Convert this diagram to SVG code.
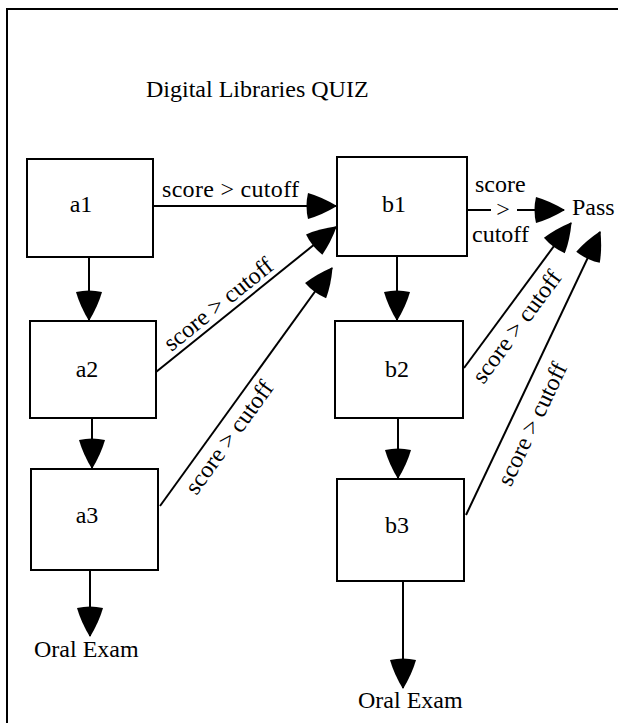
<svg xmlns="http://www.w3.org/2000/svg" width="618" height="723" viewBox="0 0 618 723">
<style>
  text { font-family: "Liberation Serif", "Times New Roman", serif; font-size: 24px; fill: #000; }
  .box { fill: #fff; stroke: #000; stroke-width: 2; }
  .edge { stroke: #000; stroke-width: 2; fill: none; marker-end: url(#ah); }
  .mid { text-anchor: middle; }
</style>
<defs>
  <marker id="ah" markerUnits="userSpaceOnUse" viewBox="0 0 32 26" refX="30" refY="13" markerWidth="32" markerHeight="26" orient="auto">
    <path d="M31,13 Q16,4 2,0 Q-1,13 2,26 Q16,22 31,13 Z" fill="#000"/>
  </marker>
</defs>
<rect width="618" height="723" fill="#fff"/>
<path d="M7,723 V9 H618" fill="none" stroke="#000" stroke-width="2"/>
<text x="146" y="97">Digital Libraries QUIZ</text>

<g id="connectors">
  <line class="edge" x1="89" y1="257" x2="89" y2="320"/>
  <line class="edge" x1="92" y1="418" x2="92" y2="468"/>
  <line class="edge" x1="90" y1="568" x2="90" y2="636"/>
  <line class="edge" x1="397" y1="256" x2="397" y2="320"/>
  <line class="edge" x1="398" y1="418" x2="398" y2="478"/>
  <line class="edge" x1="403" y1="581" x2="403" y2="688"/>
  <line class="edge" x1="153" y1="206" x2="336" y2="206"/>
  <line class="edge" x1="156" y1="372" x2="336" y2="227"/>
  <line class="edge" x1="160" y1="506" x2="332" y2="268"/>
  <line class="edge" x1="467" y1="210" x2="564" y2="210"/>
  <line class="edge" x1="464" y1="368" x2="571" y2="223"/>
  <line class="edge" x1="466" y1="515" x2="600" y2="232"/>
  <rect x="491" y="198" width="26" height="24" fill="#fff"/>
  <text x="162" y="197" textLength="137" lengthAdjust="spacing">score &gt; cutoff</text>
  <text class="mid" transform="translate(227,315) rotate(-38.85)" y="-6">score &gt; cutoff</text>
  <text class="mid" transform="translate(216,428) rotate(-54.15)" y="24">score &gt; cutoff</text>
  <text x="475" y="192">score</text>
  <text class="mid" x="503" y="217">&gt;</text>
  <text x="472" y="242">cutoff</text>
  <text class="mid" transform="translate(502,316) rotate(-53.6)" y="26">score &gt; cutoff</text>
  <text class="mid" transform="translate(513,415) rotate(-64.66)" y="29">score &gt; cutoff</text>
</g>

<g id="a1"><rect class="box" x="27" y="159" width="126" height="98"/><text class="mid" x="81" y="212">a1</text></g>
<g id="a2"><rect class="box" x="30" y="321" width="126" height="97"/><text class="mid" x="87" y="377">a2</text></g>
<g id="a3"><rect class="box" x="31" y="469" width="127" height="101"/><text class="mid" x="87" y="523">a3</text></g>
<g id="b1"><rect class="box" x="337" y="157" width="130" height="99"/><text class="mid" x="394" y="212">b1</text></g>
<g id="b2"><rect class="box" x="335" y="321" width="128" height="97"/><text class="mid" x="397" y="377">b2</text></g>
<g id="b3"><rect class="box" x="337" y="479" width="127" height="102"/><text class="mid" x="397" y="533">b3</text></g>
<g id="pass"><text x="572" y="215">Pass</text></g>
<g id="oral1"><text x="34" y="657">Oral Exam</text></g>
<g id="oral2"><text x="358" y="708">Oral Exam</text></g>
</svg>
